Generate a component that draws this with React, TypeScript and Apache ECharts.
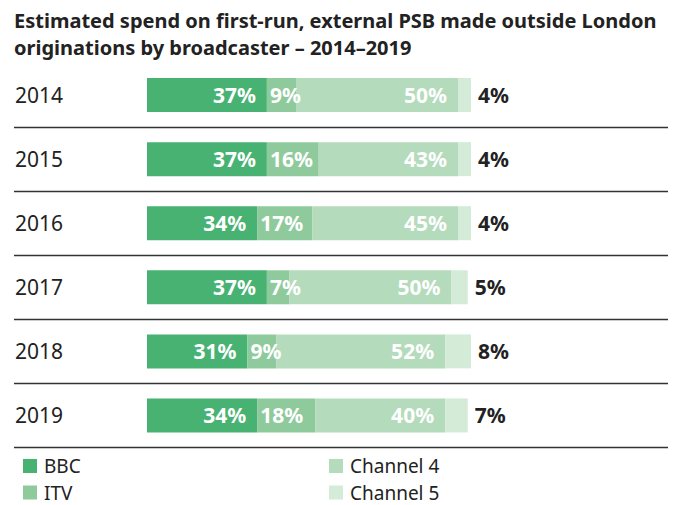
import React, { useEffect, useRef } from "react";
import * as echarts from "echarts";

const years = ["2014", "2015", "2016", "2017", "2018", "2019"];
const bbc = [37, 37, 34, 37, 31, 34];
const itv = [9, 16, 17, 7, 9, 18];
const channel4 = [50, 43, 45, 50, 52, 40];
const channel5 = [4, 4, 4, 5, 8, 7];

const seriesNames = ["BBC", "ITV", "Channel 4", "Channel 5"];
const colors = ["#48b273", "#8fca9c", "#b4dbbb", "#d4ebd8"];
const titleLines = [
  "Estimated spend on first-run, external PSB made outside London",
  "originations by broadcaster – 2014–2019",
];

const FONT = "Noto Sans";
const DARK = "#222222";

export default function App() {
  const ref = useRef<HTMLDivElement>(null);
  useEffect(() => {
    if (!ref.current) return;
    const chart = echarts.init(ref.current, undefined, { renderer: "svg" });
    const whiteLabel = (pos: string, dist: number) => ({
      show: true,
      position: pos,
      distance: dist,
      formatter: "{c}%",
      color: "#ffffff",
      fontWeight: "bold",
      fontSize: 21,
      fontFamily: FONT,
    });
    const data = [bbc, itv, channel4, channel5];
    const labels = [
      whiteLabel("insideRight", 11),
      whiteLabel("insideLeft", 3),
      whiteLabel("insideRight", 11),
      {
        show: true,
        position: "right",
        distance: 7,
        formatter: "{c}%",
        color: DARK,
        fontWeight: "bold",
        fontSize: 21,
        fontFamily: FONT,
      },
    ];
    const legendText = {
      fontFamily: FONT,
      fontSize: 19,
      lineHeight: 18,
      color: DARK,
      padding: [0, 0, 0, 2],
    };
    const legendPos = [
      { left: 23, top: 456.5 },
      { left: 23, top: 483 },
      { left: 329, top: 456.5 },
      { left: 329, top: 483 },
    ];
    chart.setOption({
      animation: false,
      color: colors,
      title: titleLines.map((t, i) => ({
        text: t,
        left: 14,
        top: 8.5 + i * 27.3,
        padding: 0,
        textStyle: {
          fontFamily: FONT,
          fontWeight: "bold",
          fontSize: 20,
          lineHeight: 23,
          color: DARK,
        },
      })),
      legend: seriesNames.map((name, i) => ({
        data: [name],
        ...legendPos[i],
        padding: 0,
        itemWidth: 14,
        itemHeight: 14,
        icon: "rect",
        textStyle: legendText,
      })),
      grid: { left: 14, right: 14, top: 63, bottom: 57.5, containLabel: false },
      xAxis: {
        type: "value",
        min: -41.05,
        max: 160.8,
        show: false,
      },
      yAxis: {
        type: "category",
        data: years,
        inverse: true,
        axisLine: { show: false },
        axisTick: { show: false },
        axisLabel: {
          align: "left",
          margin: -1,
          fontFamily: FONT,
          fontSize: 21,
          color: DARK,
        },
        splitLine: {
          show: true,
          interval: (index: number) => index !== 0,
          lineStyle: { color: "#333333", width: 1.3 },
        },
      },
      series: seriesNames.map((name, i) => ({
        name,
        type: "bar",
        stack: "total",
        barWidth: 34,
        data: data[i],
        label: labels[i],
        itemStyle: { color: colors[i] },
      })),
    });
    return () => chart.dispose();
  }, []);
  return (
    <div
      ref={ref}
      style={{ position: "fixed", left: 0, top: 0, width: 682, height: 505, background: "#fff" }}
    />
  );
}
